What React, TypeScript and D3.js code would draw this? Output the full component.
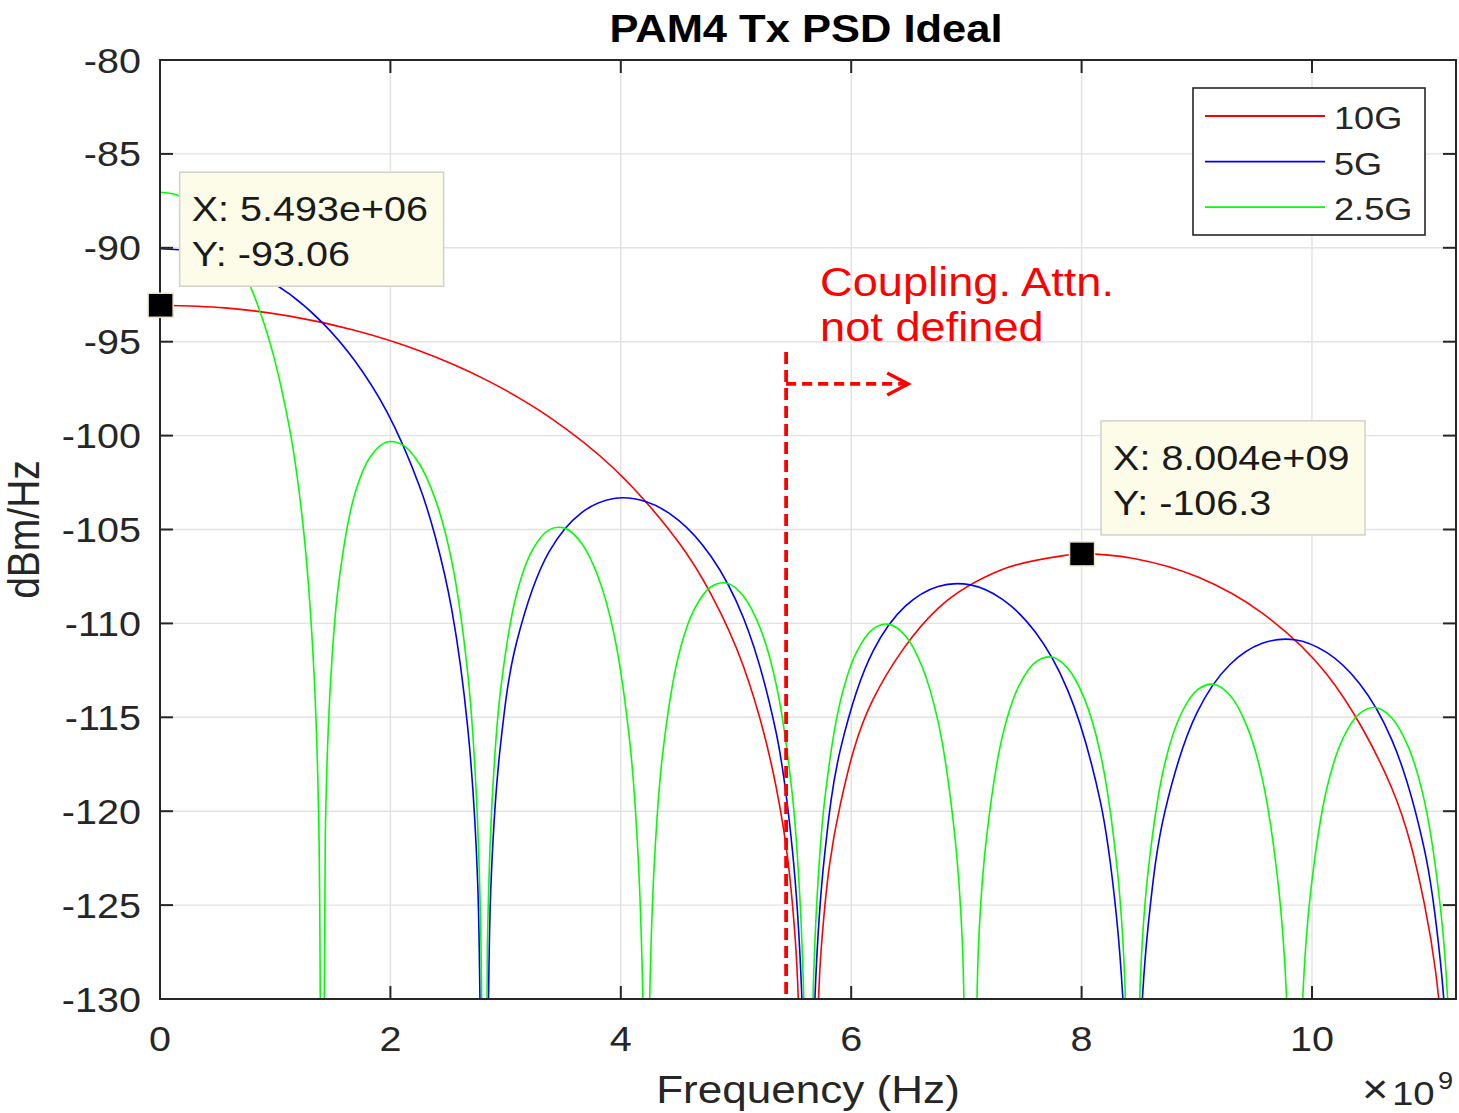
import React from 'react';
import * as d3 from 'd3';

const W = 1459;
const H = 1113;
const FONT = '"Liberation Sans", Arial, Helvetica, sans-serif';
const SX = 1.13; // horizontal stretch of the glyphs in the reference

const TITLE = 'PAM4 Tx PSD Ideal';
const X_LABEL = 'Frequency (Hz)';
const Y_LABEL = 'dBm/Hz';
const X_EXPONENT = '9';

const X_DOMAIN: [number, number] = [0, 11.25]; // GHz
const Y_DOMAIN: [number, number] = [-130, -80];
const X_TICKS = [0, 2, 4, 6, 8, 10];
const Y_TICKS = [-130, -125, -120, -115, -110, -105, -100, -95, -90, -85, -80];

const SERIES_NAMES = ['10G', '5G', '2.5G'];
const SERIES_COLORS = ['#ff0000', '#0000ff', '#00ff00'];

// [frequency GHz, dBm/Hz] (values below -130 are off-axis)
const PSD_10G: [number, number][] = [
  [0, -93.06], [0.563, -93.2], [1.126, -93.64], [1.688, -94.39], [2.251, -95.48], [2.814, -96.98],
  [3.377, -99.0], [3.94, -101.75], [4.502, -105.68], [4.784, -108.45], [5.065, -112.29], [5.347, -118.67],
  [5.515, -126.87], [5.628, -160], [5.741, -127.22], [5.909, -119.54], [6.191, -114.03], [6.754, -109.2],
  [7.316, -107.12], [7.879, -106.36], [8.004, -106.3], [8.442, -106.53], [9.005, -107.52], [9.568, -109.45],
  [10.13, -112.72], [10.693, -118.78], [10.975, -124.92], [11.143, -132.98], [11.25, -160],
];

const PSD_5G: [number, number][] = [
  [0, -90.05], [0.281, -90.19], [0.563, -90.63], [0.844, -91.38], [1.126, -92.47], [1.407, -93.97],
  [1.688, -95.99], [1.97, -98.74], [2.251, -102.67], [2.392, -105.44], [2.533, -109.28], [2.673, -115.66],
  [2.758, -123.86], [2.814, -160], [2.871, -124.21], [2.955, -116.53], [3.095, -111.02], [3.377, -106.19],
  [3.658, -104.11], [3.94, -103.35], [4.221, -103.52], [4.502, -104.51], [4.784, -106.44], [5.065, -109.71],
  [5.347, -115.77], [5.487, -121.91], [5.572, -129.97], [5.628, -160], [5.684, -130.14], [5.769, -122.34],
  [5.909, -116.64], [6.191, -111.46], [6.472, -109.07], [6.754, -108.03], [7.035, -107.95], [7.316, -108.73],
  [7.598, -110.46], [7.879, -113.55], [8.161, -119.44], [8.301, -125.5], [8.386, -133.52], [8.442, -160],
  [8.498, -133.63], [8.583, -125.79], [8.723, -120.02], [9.005, -114.71], [9.286, -112.2], [9.568, -111.06],
  [9.849, -110.87], [10.13, -111.56], [10.412, -113.2], [10.693, -116.2], [10.975, -122.02], [11.115, -128.04],
  [11.199, -136.03], [11.25, -160],
];

const PSD_2G5: [number, number][] = [
  [0, -87.04], [0.141, -87.18], [0.281, -87.62], [0.422, -88.37], [0.563, -89.46], [0.704, -90.96],
  [0.844, -92.98], [0.985, -95.73], [1.126, -99.66], [1.196, -102.43], [1.266, -106.27], [1.337, -112.65],
  [1.379, -120.85], [1.407, -160],
  [1.435, -121.2], [1.477, -113.52], [1.548, -108.01], [1.688, -103.18], [1.829, -101.1], [1.97, -100.34],
  [2.111, -100.51], [2.251, -101.5], [2.392, -103.43], [2.533, -106.7], [2.673, -112.76], [2.744, -118.9],
  [2.786, -126.96], [2.814, -160],
  [2.842, -127.13], [2.884, -119.33], [2.955, -113.63], [3.095, -108.45], [3.236, -106.06], [3.377, -105.02],
  [3.518, -104.94], [3.658, -105.72], [3.799, -107.45], [3.94, -110.54], [4.08, -116.43], [4.151, -122.49],
  [4.193, -130.51], [4.221, -160],
  [4.249, -130.62], [4.291, -122.78], [4.362, -117.01], [4.502, -111.7], [4.643, -109.19], [4.784, -108.05],
  [4.925, -107.86], [5.065, -108.55], [5.206, -110.19], [5.347, -113.19], [5.487, -119.01], [5.558, -125.03],
  [5.6, -133.02], [5.628, -160],
  [5.656, -133.11], [5.698, -125.25], [5.769, -119.44], [5.909, -114.06], [6.05, -111.49], [6.191, -110.29],
  [6.332, -110.05], [6.472, -110.67], [6.613, -112.27], [6.754, -115.22], [6.894, -120.99], [6.965, -126.99],
  [7.035, -160],
  [7.105, -127.16], [7.176, -121.34], [7.316, -115.92], [7.457, -113.31], [7.598, -112.07], [7.739, -111.79],
  [7.879, -112.38], [8.02, -113.94], [8.161, -116.87], [8.301, -122.6], [8.372, -128.59], [8.442, -160],
  [8.512, -128.73], [8.583, -122.89], [8.723, -117.45], [8.864, -114.81], [9.005, -113.54], [9.146, -113.24],
  [9.286, -113.81], [9.427, -115.35], [9.568, -118.25], [9.708, -123.96], [9.779, -129.94], [9.849, -160],
  [9.919, -130.06], [9.99, -124.21], [10.13, -118.75], [10.271, -116.09], [10.412, -114.8], [10.553, -114.48],
  [10.693, -115.04], [10.834, -116.55], [10.975, -119.44], [11.115, -125.14], [11.186, -131.1], [11.25, -160],
];

const SERIES = [PSD_10G, PSD_5G, PSD_2G5];

// data tips: [GHz, dB] and their texts
const TIP_X = [0.005493, 8.004];
const TIP_Y = [-93.06, -106.3];
const TIP_X_TEXT = ['5.493e+06', '8.004e+09'];
const TIP_Y_TEXT = ['-93.06', '-106.3'];

// annotation (in data units)
const CUT_F = 5.435;
const CUT_TOP_DB = -95.55;
const ARROW_DB = -97.25;
const ARROW_END_F = 6.495;
const NOTE_F = 5.73;
const NOTE_LINES = ['Coupling. Attn.', 'not defined'];
const NOTE_DB = [-92.57, -94.96];

const L = 160, R = 1456, T = 60, B = 999;

function Txt(props: any) {
  const { x, y, anchor = 'start', size = 35, weight = 'normal', fill = '#262626', rotate = 0, children } = props;
  return (
    <text
      transform={`translate(${x},${y}) scale(${SX},1)${rotate ? ` rotate(${rotate})` : ''}`}
      textAnchor={anchor}
      fontSize={size}
      fontWeight={weight}
      fill={fill}
      fontFamily={FONT}
    >
      {children}
    </text>
  );
}

export default function App() {
  const x = d3.scaleLinear().domain(X_DOMAIN).range([L, R]);
  const y = d3.scaleLinear().domain(Y_DOMAIN).range([B, T]);
  const line = d3
    .line<[number, number]>()
    .x((d) => x(d[0]))
    .y((d) => y(d[1]))
    .curve(d3.curveCatmullRom.alpha(0.5));

  const tick = 13;
  const axisColor = '#262626';
  const gridColor = '#e2e2e2';

  return (
    <svg width={W} height={H} style={{ position: 'absolute', left: 0, top: 0, background: '#fff' }}>
      <defs>
        <clipPath id="plotclip">
          <rect x={L} y={T} width={R - L} height={B - T} />
        </clipPath>
      </defs>
      <rect x={0} y={0} width={W} height={H} fill="#fff" />
      {/* grid */}
      <g stroke={gridColor} strokeWidth={1.4}>
        {X_TICKS.map((t) => (
          <line key={'gx' + t} x1={x(t)} x2={x(t)} y1={T} y2={B} />
        ))}
        {Y_TICKS.map((t) => (
          <line key={'gy' + t} x1={L} x2={R} y1={y(t)} y2={y(t)} />
        ))}
      </g>
      {/* series */}
      <g clipPath="url(#plotclip)" fill="none" strokeWidth={1.6}>
        {SERIES.map((s, i) => (
          <path key={i} d={line(s) || ''} stroke={SERIES_COLORS[i]} />
        ))}
      </g>
      {/* axes box and ticks */}
      <g stroke={axisColor} strokeWidth={2} fill="none">
        <rect x={L} y={T} width={R - L} height={B - T} />
        {X_TICKS.map((t) => (
          <g key={'tx' + t}>
            <line x1={x(t)} x2={x(t)} y1={B} y2={B - tick} />
            <line x1={x(t)} x2={x(t)} y1={T} y2={T + tick} />
          </g>
        ))}
        {Y_TICKS.map((t) => (
          <g key={'ty' + t}>
            <line x1={L} x2={L + tick} y1={y(t)} y2={y(t)} />
            <line x1={R} x2={R - tick} y1={y(t)} y2={y(t)} />
          </g>
        ))}
      </g>
      {/* tick labels */}
      {X_TICKS.map((t) => (
        <Txt key={'lx' + t} x={x(t)} y={B + 52} anchor="middle">
          {String(t)}
        </Txt>
      ))}
      {Y_TICKS.map((t) => (
        <Txt key={'ly' + t} x={141} y={y(t) + 12.5} anchor="end">
          {String(t)}
        </Txt>
      ))}
      <Txt x={1362} y={1103} size={40}>×</Txt>
      <Txt x={1392} y={1105} size={34}>10</Txt>
      <Txt x={1438} y={1089} size={24}>{X_EXPONENT}</Txt>
      {/* labels */}
      <Txt x={(L + R) / 2} y={1103} anchor="middle" size={39}>{X_LABEL}</Txt>
      <Txt x={39} y={(T + B) / 2} anchor="middle" size={39} rotate={-90}>{Y_LABEL}</Txt>
      <Txt x={(L + R) / 2 - 2} y={42} anchor="middle" size={38.5} weight="bold" fill="#000">{TITLE}</Txt>

      {/* annotation */}
      <g stroke="#ff0000" strokeWidth={3.8} fill="none">
        <line x1={x(CUT_F)} x2={x(CUT_F)} y1={y(CUT_TOP_DB)} y2={B} strokeDasharray="12 6" />
        <line x1={x(CUT_F)} x2={x(ARROW_END_F) - 3} y1={y(ARROW_DB)} y2={y(ARROW_DB)} strokeDasharray="10 6" />
        <polyline
          points={`${x(ARROW_END_F) - 21},${y(ARROW_DB) - 11} ${x(ARROW_END_F)},${y(ARROW_DB)} ${x(ARROW_END_F) - 21},${y(ARROW_DB) + 11}`}
          strokeWidth={3.4}
        />
      </g>
      {NOTE_LINES.map((s, i) => (
        <Txt key={'n' + i} x={x(NOTE_F)} y={y(NOTE_DB[i])} size={40} fill="#ff0000">{s}</Txt>
      ))}

      {/* legend */}
      <g>
        <rect x={1193} y={88} width={232} height={147} fill="#fff" stroke={axisColor} strokeWidth={1.6} />
        {SERIES_NAMES.map((n, i) => {
          const ly = 116 + i * 45.6;
          return (
            <g key={n}>
              <line x1={1205} x2={1325} y1={ly} y2={ly} stroke={SERIES_COLORS[i]} strokeWidth={1.8} />
              <Txt x={1334} y={ly + 13} size={32}>{n}</Txt>
            </g>
          );
        })}
      </g>

      {/* data tips */}
      {TIP_X.map((tx, i) => {
        const mx = x(tx);
        const my = y(TIP_Y[i]);
        const bx = mx + 19;
        const by = my - 133;
        return (
          <g key={'tip' + i}>
            <rect x={bx} y={by} width={264} height={114} fill="#fcfce9" stroke="#d2d2c8" strokeWidth={1.5} />
            <Txt x={bx + 12} y={by + 49} size={35} fill="#1a1a1a">{'X: ' + TIP_X_TEXT[i]}</Txt>
            <Txt x={bx + 12} y={by + 94} size={35} fill="#1a1a1a">{'Y: ' + TIP_Y_TEXT[i]}</Txt>
            <rect x={mx - 12.5} y={my - 12} width={25} height={24} fill="#000" stroke="#e9e6c4" strokeWidth={1.5} />
          </g>
        );
      })}
    </svg>
  );
}
